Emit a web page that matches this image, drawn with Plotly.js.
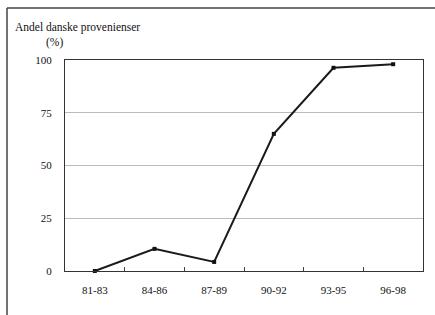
<!DOCTYPE html>
<html><head><meta charset="utf-8">
<script src="https://cdn.plot.ly/plotly-3.0.1.min.js"></script>
<style>html,body{margin:0;padding:0;background:#fff}</style>
</head><body>
<div id="chart" style="width:435px;height:315px"></div>
<script>
const categories = ["81-83", "84-86", "87-89", "90-92", "93-95", "96-98"];
const shareDanish = [0, 10.5, 4.3, 65, 96.3, 98];
const yTicks = [0, 25, 50, 75, 100];
const yTitle = "Andel danske provenienser";
const yUnit = "(%)";

const font = {family: "Liberation Serif, Times New Roman, serif", size: 11, color: "#111"};
const titleFont = {family: "Liberation Serif, Times New Roman, serif", size: 11.5, color: "#111"};

Plotly.newPlot("chart", [{
  x: categories, y: shareDanish, type: "scatter", mode: "lines+markers",
  line: {color: "#1a1a1a", width: 2},
  marker: {symbol: "square", size: 4, color: "#111"},
  cliponaxis: false
}], {
  width: 435, height: 315,
  margin: {l: 65, r: 12, t: 60, b: 44},
  paper_bgcolor: "#fff", plot_bgcolor: "#fff",
  font: font,
  showlegend: false,
  xaxis: {
    type: "category", tickson: "boundaries", ticks: "inside", ticklen: 4, tickcolor: "#444",
    showgrid: false, showline: true, linecolor: "#333", linewidth: 1, mirror: true,
    tickfont: font, ticklabelstandoff: 9, range: [-0.5, 5.5], fixedrange: true
  },
  yaxis: {
    range: [0, 100], tickvals: yTicks, ticktext: yTicks.map(String),
    showgrid: true, gridcolor: "#bbbbbb", gridwidth: 1,
    showline: true, linecolor: "#333", linewidth: 1, mirror: true,
    zeroline: false, ticks: "", tickfont: font, ticklabelstandoff: 10
  },
  annotations: [
    {text: yTitle, xref: "paper", yref: "paper", x: (13 - 65) / 358, y: (271 - 27) / 211,
     xanchor: "left", yanchor: "middle", showarrow: false, font: titleFont},
    {text: yUnit, xref: "paper", yref: "paper", x: (44 - 65) / 358, y: (271 - 43) / 211,
     xanchor: "left", yanchor: "middle", showarrow: false, font: titleFont}
  ],
  shapes: [
    {type: "line", xref: "paper", yref: "paper", x0: (7 - 65) / 358, x1: (435 - 65) / 358,
     y0: (271 - 8) / 211, y1: (271 - 8) / 211, line: {color: "#444", width: 1.5}},
    {type: "line", xref: "paper", yref: "paper", x0: (7 - 65) / 358, x1: (7 - 65) / 358,
     y0: (271 - 8) / 211, y1: (271 - 315) / 211, line: {color: "#444", width: 1.5}}
  ]
}, {staticPlot: true});
</script>
</body></html>
